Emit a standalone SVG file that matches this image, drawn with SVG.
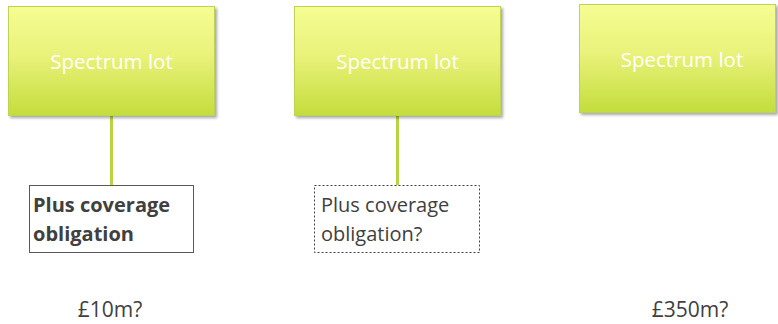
<svg xmlns="http://www.w3.org/2000/svg" width="778" height="324" viewBox="0 0 778 324">
  <defs>
    <linearGradient id="g" x1="0" y1="0" x2="0" y2="1">
      <stop offset="0" stop-color="#f6fd93"/>
      <stop offset="0.45" stop-color="#e9f27a"/>
      <stop offset="1" stop-color="#c3dd3c"/>
    </linearGradient>
    <filter id="sh" x="-10%" y="-10%" width="125%" height="130%">
      <feGaussianBlur in="SourceAlpha" stdDeviation="1.5"/>
      <feOffset dx="1.5" dy="2" result="b"/>
      <feComponentTransfer><feFuncA type="linear" slope="0.35"/></feComponentTransfer>
      <feMerge><feMergeNode/><feMergeNode in="SourceGraphic"/></feMerge>
    </filter>
  </defs>
  <style>
    .lot { fill: url(#g); stroke: #bcd454; stroke-width: 1; filter: url(#sh); }
    .lt { font-family: "Open Sans", "Liberation Sans", sans-serif; font-size: 20.5px; fill: #ffffff; text-anchor: middle; }
    .t { font-family: "Open Sans", "Liberation Sans", sans-serif; font-size: 20px; fill: #404040; }
    .p { font-size: 21px; text-anchor: middle; }
    .b { font-weight: bold; }
    .conn { stroke: #b8d43e; stroke-width: 3; fill: none; }
    .solid { fill: #ffffff; stroke: #595959; stroke-width: 1; }
    .dash { fill: #ffffff; stroke: #404040; stroke-width: 1; stroke-dasharray: 2 2; }
  </style>
  <g id="connectors">
    <line class="conn" x1="111.5" y1="116" x2="111.5" y2="185"/>
    <line class="conn" x1="397.5" y1="116" x2="397.5" y2="185"/>
  </g>
  <g id="lot1">
    <rect class="lot" x="8.5" y="6.5" width="206" height="109"/>
    <text class="lt" x="111.5" y="69">Spectrum lot</text>
  </g>
  <g id="lot2">
    <rect class="lot" x="294.5" y="6.5" width="206" height="109"/>
    <text class="lt" x="397.5" y="69">Spectrum lot</text>
  </g>
  <g id="lot3">
    <rect class="lot" x="579.5" y="4.5" width="196" height="108"/>
    <text class="lt" x="682" y="67">Spectrum lot</text>
  </g>
  <g id="coverage1">
    <rect class="solid" x="29.5" y="185.5" width="164" height="67"/>
    <text class="t b" x="33" y="212">Plus coverage</text>
    <text class="t b" x="33" y="241">obligation</text>
  </g>
  <g id="coverage2">
    <rect class="dash" x="314.5" y="185.5" width="165" height="67"/>
    <text class="t" x="321" y="212">Plus coverage</text>
    <text class="t" x="321" y="241">obligation?</text>
  </g>
  <g id="price1">
    <text class="t p" x="110" y="317">£10m?</text>
  </g>
  <g id="price2">
    <text class="t p" x="690" y="317">£350m?</text>
  </g>
</svg>
